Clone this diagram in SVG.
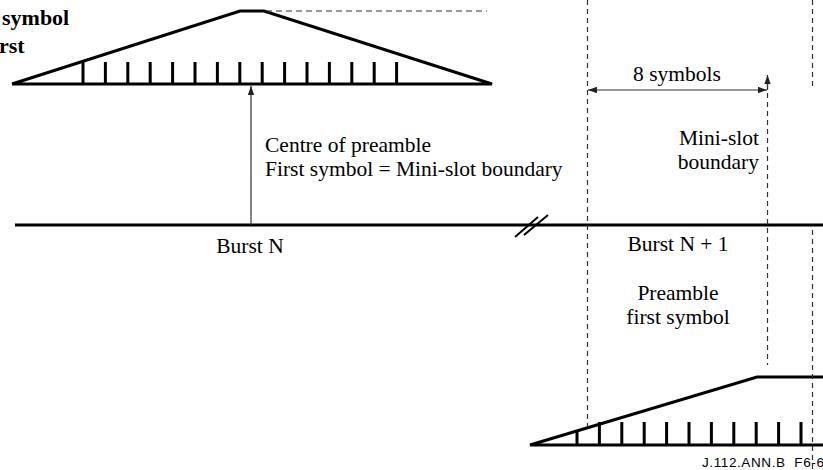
<svg xmlns="http://www.w3.org/2000/svg" width="823" height="470" viewBox="0 0 823 470">
<defs>
<style>
.t{font-family:"Liberation Serif","Times New Roman",serif;font-size:21.5px;fill:#000}
.b{font-family:"Liberation Serif","Times New Roman",serif;font-size:22px;font-weight:bold;fill:#000}
.c{font-family:"Liberation Sans",Arial,sans-serif;font-size:13.5px;letter-spacing:0.6px;fill:#000;white-space:pre}
.thick{stroke:#000;stroke-width:3;fill:none}
.tick{stroke:#000;stroke-width:3}
.dash{stroke:#333;stroke-width:1.2;stroke-dasharray:5,4;fill:none}
.thin{stroke:#333;stroke-width:1.2;fill:none}
</style>
<marker id="ah" viewBox="0 0 10 10" refX="10" refY="5" markerWidth="9" markerHeight="9" markerUnits="userSpaceOnUse" orient="auto-start-reverse">
<path d="M0,1.5 L10,5 L0,8.5 Z" fill="#222"/>
</marker>
</defs>

<g id="burst-n-top">
<polyline class="thick" points="12,84 240,11 264,11 492,84 12,84"/>
<g class="tick">
<line x1="83" y1="62" x2="83" y2="84"/>
<line x1="105.4" y1="62" x2="105.4" y2="84"/>
<line x1="127.8" y1="62" x2="127.8" y2="84"/>
<line x1="150.2" y1="62" x2="150.2" y2="84"/>
<line x1="172.6" y1="62" x2="172.6" y2="84"/>
<line x1="195" y1="62" x2="195" y2="84"/>
<line x1="217.4" y1="62" x2="217.4" y2="84"/>
<line x1="239.8" y1="62" x2="239.8" y2="84"/>
<line x1="262.2" y1="62" x2="262.2" y2="84"/>
<line x1="284.6" y1="62" x2="284.6" y2="84"/>
<line x1="307" y1="62" x2="307" y2="84"/>
<line x1="329.4" y1="62" x2="329.4" y2="84"/>
<line x1="351.8" y1="62" x2="351.8" y2="84"/>
<line x1="374.2" y1="62" x2="374.2" y2="84"/>
<line x1="396.6" y1="62" x2="396.6" y2="84"/>
</g>
<line class="dash" x1="266" y1="11" x2="487" y2="11" style="stroke-dasharray:6,4"/>
<text class="b" x="2" y="25">symbol</text>
<text class="b" x="-1" y="53">rst</text>
</g>

<g id="burst-n1-bottom">
<polyline class="thick" points="823,377 757,377 530,445 823,445"/>
<g class="tick">
<line x1="577" y1="432" x2="577" y2="445"/>
<line x1="599.4" y1="422" x2="599.4" y2="445"/>
<line x1="621.8" y1="422" x2="621.8" y2="445"/>
<line x1="644.2" y1="422" x2="644.2" y2="445"/>
<line x1="666.6" y1="422" x2="666.6" y2="445"/>
<line x1="689" y1="422" x2="689" y2="445"/>
<line x1="711.4" y1="422" x2="711.4" y2="445"/>
<line x1="733.8" y1="422" x2="733.8" y2="445"/>
<line x1="756.2" y1="422" x2="756.2" y2="445"/>
<line x1="778.6" y1="422" x2="778.6" y2="445"/>
<line x1="801" y1="422" x2="801" y2="445"/>
</g>
</g>

<g id="timeline">
<line class="thick" x1="15" y1="225" x2="823" y2="225"/>
<line stroke="#000" stroke-width="2" x1="515" y1="237" x2="538" y2="217"/>
<line stroke="#000" stroke-width="2" x1="524" y1="235" x2="548" y2="215"/>
</g>

<g id="connectors">
<line class="thin" x1="251" y1="225" x2="251" y2="86" marker-end="url(#ah)"/>
<line class="dash" x1="587.5" y1="0" x2="587.5" y2="427"/>
<line class="dash" x1="767.5" y1="84" x2="767.5" y2="365"/>
<line class="thin" x1="767.5" y1="90" x2="767.5" y2="75" marker-end="url(#ah)"/>
<line class="thin" x1="588" y1="90" x2="767" y2="90" marker-start="url(#ah)" marker-end="url(#ah)"/>
<line class="dash" x1="812.5" y1="0" x2="812.5" y2="90"/>
<line class="dash" x1="812.5" y1="230" x2="812.5" y2="470"/>
</g>

<g id="labels">
<text class="t" x="265" y="152">Centre of preamble</text>
<text class="t" x="265" y="176">First symbol = Mini-slot boundary</text>
<text class="t" x="250" y="253" text-anchor="middle">Burst N</text>
<text class="t" x="678" y="251" text-anchor="middle">Burst N + 1</text>
<text class="t" x="678" y="300" text-anchor="middle">Preamble</text>
<text class="t" x="678" y="324" text-anchor="middle">first symbol</text>
<text class="t" x="677" y="81" text-anchor="middle">8 symbols</text>
<text class="t" x="759" y="145" text-anchor="end">Mini-slot</text>
<text class="t" x="759" y="169" text-anchor="end">boundary</text>
<text class="c" x="702" y="467">J.112.ANN.B  F6-6</text>
</g>
</svg>
